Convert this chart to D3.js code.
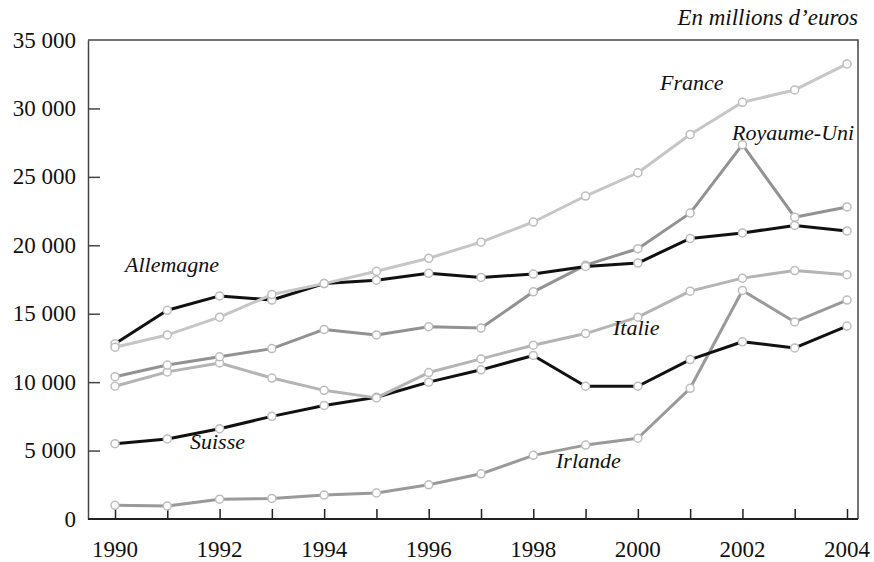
<!DOCTYPE html>
<html>
<head>
<meta charset="utf-8">
<script src="https://cdn.jsdelivr.net/npm/d3@7"></script>
<style>
  body { margin: 0; background: #fff; }
  svg text { font-family: "Liberation Serif", "Times New Roman", "DejaVu Serif", serif; }
</style>
</head>
<body>
<div id="main-container"></div>
<script>
var years = [1990, 1991, 1992, 1993, 1994, 1995, 1996, 1997, 1998, 1999, 2000, 2001, 2002, 2003, 2004];
var yTicks = [0, 5000, 10000, 15000, 20000, 25000, 30000, 35000];
var xTicks = [1990, 1992, 1994, 1996, 1998, 2000, 2002, 2004];

var france     = [12550, 13450, 14750, 16400, 17200, 18100, 19050, 20230, 21700, 23600, 25300, 28100, 30450, 31350, 33250];
var allemagne  = [12800, 15250, 16300, 16000, 17200, 17450, 17950, 17650, 17900, 18450, 18700, 20500, 20900, 21450, 21050];
var royaumeUni = [10400, 11250, 11850, 12450, 13850, 13450, 14050, 13950, 16600, 18550, 19750, 22350, 27350, 22050, 22800];
var italie     = [ 9700, 10750, 11400, 10300,  9400,  8850, 10700, 11700, 12700, 13550, 14750, 16650, 17600, 18150, 17850];
var suisse     = [ 5500,  5850,  6600,  7500,  8300,  8900, 10000, 10900, 11950,  9700,  9700, 11650, 12950, 12500, 14100];
var irlande    = [ 1000,   950,  1450,  1500,  1750,  1900,  2500,  3300,  4650,  5400,  5900,  9550, 16700, 14400, 16000];

var seriesNames = ["Irlande", "Suisse", "Italie", "Royaume-Uni", "Allemagne", "France"];
var seriesValues = [irlande, suisse, italie, royaumeUni, allemagne, france];
var seriesColors = ["#9a9a9a", "#111111", "#b4b4b4", "#929292", "#111111", "#c6c6c6"];

var width = 874, height = 562;
var plotLeft = 88, plotRight = 858, plotTop = 40, plotBottom = 519;
var serif = "'Liberation Serif', 'Times New Roman', serif";

var svg = d3.select("div#main-container")
            .append("svg")
            .attr("width", width)
            .attr("height", height);

var x = d3.scaleLinear().domain([1990, 2004]).range([115, 847]);
var y = d3.scaleLinear().domain([0, 35000]).range([plotBottom, plotTop]);

// frame (top and right)
svg.append("path")
    .attr("d", "M" + plotLeft + "," + plotTop + "H" + plotRight + "V" + plotBottom)
    .attr("fill", "none")
    .attr("stroke", "#444")
    .attr("stroke-width", 1.5);

// y axis, ticks inside
var yAxis = svg.append("g")
    .attr("transform", "translate(" + plotLeft + ",0)")
    .call(d3.axisRight(y).tickValues(yTicks).tickSize(12).tickSizeOuter(0).tickFormat(""));
yAxis.select(".domain").attr("stroke", "#444").attr("stroke-width", 1.5);
yAxis.selectAll(".tick line").attr("stroke", "#444").attr("stroke-width", 1.5);
yAxis.selectAll(".tick")
    .filter(function(d) { return d === 35000 || d === 0; })
    .select("line").remove();

svg.selectAll("text.ylab")
    .data(yTicks)
    .enter()
    .append("text")
    .attr("class", "ylab")
    .attr("x", 76)
    .attr("y", function(d) { return y(d); })
    .attr("dy", "0.33em")
    .attr("text-anchor", "end")
    .attr("font-family", serif)
    .attr("font-size", "23px")
    .attr("fill", "#111")
    .text(function(d) { return d3.format(",")(d).replace(",", " "); });

// x axis, ticks inside
var xAxis = svg.append("g")
    .attr("transform", "translate(0," + plotBottom + ")")
    .call(d3.axisTop(x).tickValues(years).tickSize(10).tickFormat("").tickSizeOuter(0));
xAxis.select(".domain").attr("d", "M" + plotLeft + ",0H" + plotRight).attr("stroke", "#222").attr("stroke-width", 2);
xAxis.selectAll(".tick line").attr("stroke", "#222").attr("stroke-width", 1.5);

svg.selectAll("text.xlab")
    .data(xTicks)
    .enter()
    .append("text")
    .attr("class", "xlab")
    .attr("x", function(d) { return x(d); })
    .attr("y", 557)
    .attr("text-anchor", "middle")
    .attr("font-family", serif)
    .attr("font-size", "23px")
    .attr("fill", "#111")
    .text(function(d) { return d; });

// lines
var line = d3.line()
    .x(function(d, i) { return x(years[i]); })
    .y(function(d) { return y(d); });

seriesValues.forEach(function(vals, k) {
    var g = svg.append("g");
    g.append("path")
        .datum(vals)
        .attr("d", line)
        .attr("fill", "none")
        .attr("stroke", seriesColors[k])
        .attr("stroke-width", 3)
        .attr("stroke-linejoin", "round");
    g.selectAll("circle")
        .data(vals)
        .enter()
        .append("circle")
        .attr("cx", function(d, i) { return x(years[i]); })
        .attr("cy", function(d) { return y(d); })
        .attr("r", 4)
        .attr("fill", "#fff")
        .attr("stroke", "#bdbdbd")
        .attr("stroke-width", 1.5);
});

// series labels
var labels = [
    { t: "France", x: 660, y: 90 },
    { t: "Royaume-Uni", x: 732, y: 140 },
    { t: "Allemagne", x: 125, y: 272 },
    { t: "Italie", x: 613, y: 335 },
    { t: "Suisse", x: 190, y: 449 },
    { t: "Irlande", x: 556, y: 468 }
];
svg.selectAll("text.slab")
    .data(labels)
    .enter()
    .append("text")
    .attr("class", "slab")
    .attr("x", function(d) { return d.x; })
    .attr("y", function(d) { return d.y; })
    .attr("font-family", serif)
    .attr("font-size", "22px")
    .attr("font-style", "italic")
    .attr("fill", "#111")
    .text(function(d) { return d.t; });

svg.append("text")
    .attr("x", 858)
    .attr("y", 25)
    .attr("text-anchor", "end")
    .attr("font-family", serif)
    .attr("font-size", "23px")
    .attr("font-style", "italic")
    .attr("fill", "#111")
    .text("En millions d\u2019euros");
</script>
</body>
</html>
